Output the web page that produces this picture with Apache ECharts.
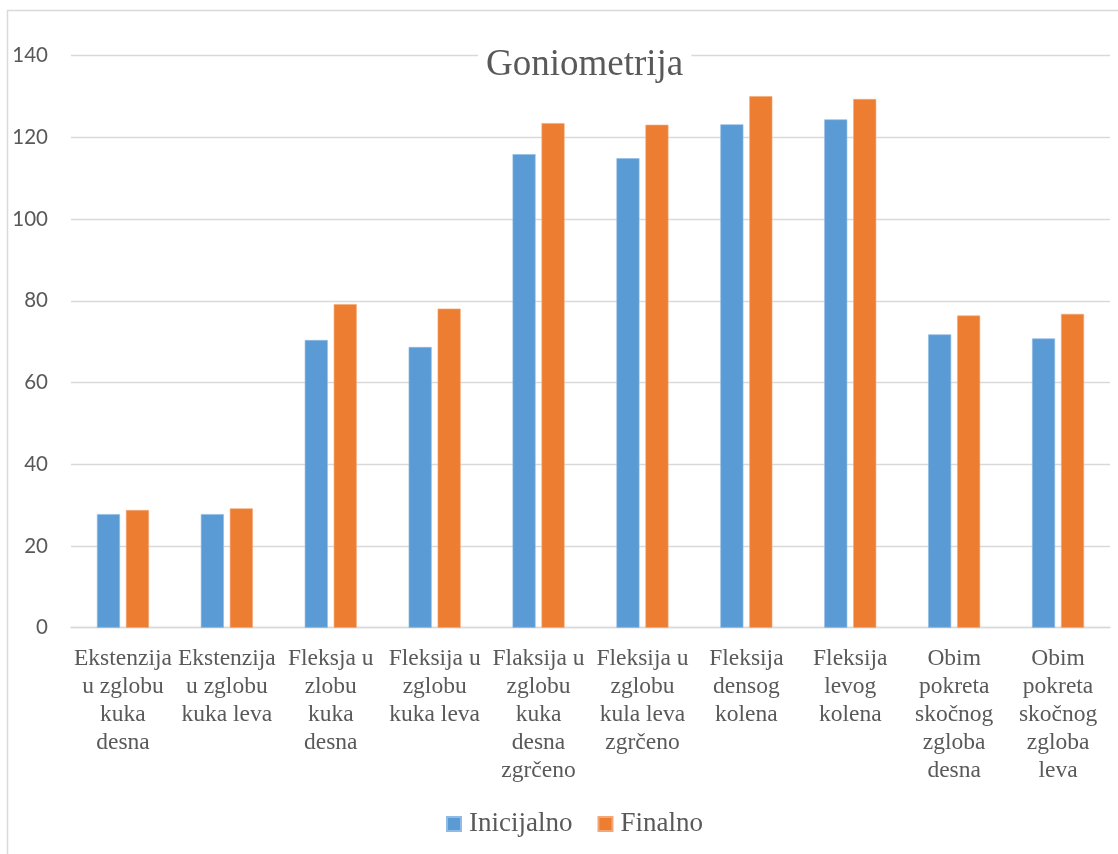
<!DOCTYPE html>
<html>
<head>
<meta charset="utf-8">
<title>Goniometrija</title>
<script src="https://cdn.jsdelivr.net/npm/echarts@6/dist/echarts.min.js"></script>
<style>
  html, body { margin: 0; padding: 0; background: #ffffff; }
  #chart { width: 1118px; height: 854px; }
</style>
</head>
<body>
<div id="chart"></div>
<script>
// Range-of-motion measurements (degrees), before and after therapy
const categories = [
  'Ekstenzija\nu zglobu\nkuka\ndesna',
  'Ekstenzija\nu zglobu\nkuka leva',
  'Fleksja u\nzlobu\nkuka\ndesna',
  'Fleksija u\nzglobu\nkuka leva',
  'Flaksija u\nzglobu\nkuka\ndesna\nzgrčeno',
  'Fleksija u\nzglobu\nkula leva\nzgrčeno',
  'Fleksija\ndensog\nkolena',
  'Fleksija\nlevog\nkolena',
  'Obim\npokreta\nskočnog\nzgloba\ndesna',
  'Obim\npokreta\nskočnog\nzgloba\nleva'
];
const inicijalno = [27.8, 27.8, 70.4, 68.7, 115.9, 114.9, 123.2, 124.4, 71.8, 70.8];
const finalno    = [28.8, 29.2, 79.2, 78.1, 123.5, 123.1, 130.1, 129.4, 76.4, 76.8];
const seriesNames = ['Inicijalno', 'Finalno'];
const yTicks = { min: 0, max: 140, interval: 20 };

const textColor = '#595959';
const gridColor = '#d9d9d9';
const serif = 'Liberation Serif, DejaVu Serif, serif';
const sans = 'Lato, Open Sans, sans-serif';

const chart = echarts.init(document.getElementById('chart'), null, { renderer: 'canvas' });

chart.setOption({
  animation: false,
  backgroundColor: '#ffffff',
  graphic: [{
    type: 'rect',
    silent: true,
    z: 0,
    shape: { x: 7.5, y: 10.5, width: 1200, height: 900 },
    style: { fill: 'none', stroke: gridColor, lineWidth: 1.5 }
  }],
  title: {
    text: 'Goniometrija',
    left: 478,
    top: 45,
    padding: [0, 8],
    backgroundColor: '#ffffff',
    textStyle: { fontFamily: serif, fontSize: 37, fontWeight: 'normal', color: textColor, lineHeight: 40 },
    z: 10
  },
  legend: {
    data: seriesNames,
    left: 441,
    top: 804,
    icon: 'rect',
    itemWidth: 14,
    itemHeight: 14,
    itemGap: 25,
    textStyle: { fontFamily: serif, fontSize: 27, color: textColor, lineHeight: 30, padding: [0, 0, 0, 3] }
  },
  grid: { left: 71, right: 8, top: 55.7, bottom: 226.3, containLabel: false },
  xAxis: {
    type: 'category',
    data: categories,
    axisLine: { show: true, lineStyle: { color: gridColor, width: 1.3 } },
    axisTick: { show: false },
    axisLabel: {
      interval: 0,
      margin: 17,
      fontFamily: serif,
      fontSize: 23.5,
      lineHeight: 28,
      color: textColor,
      align: 'center'
    }
  },
  yAxis: {
    type: 'value',
    min: yTicks.min,
    max: yTicks.max,
    interval: yTicks.interval,
    axisLine: { show: false },
    axisTick: { show: false },
    splitLine: { lineStyle: { color: gridColor, width: 1.3 } },
    axisLabel: { margin: 23, fontFamily: sans, fontSize: 20.5, color: textColor }
  },
  series: [
    {
      name: seriesNames[0],
      type: 'bar',
      data: inicijalno,
      barWidth: 23,
      barGap: '26%',
      itemStyle: { color: '#5b9bd5', borderColor: '#8fbbe4', borderWidth: 0.6 }
    },
    {
      name: seriesNames[1],
      type: 'bar',
      data: finalno,
      barWidth: 23,
      barGap: '26%',
      itemStyle: { color: '#ed7d31', borderColor: '#f4a775', borderWidth: 0.6 }
    }
  ]
});
</script>
</body>
</html>
